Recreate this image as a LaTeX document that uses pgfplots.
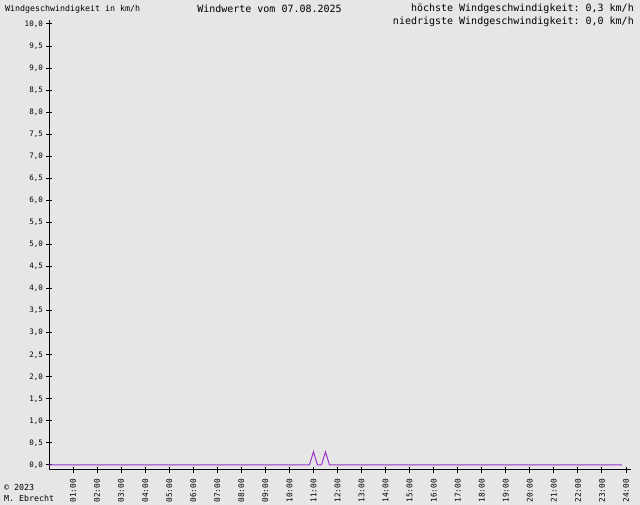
\documentclass[border=0pt]{standalone}
\usepackage{fontspec}
\setmonofont{DejaVu Sans Mono}
\usepackage{pgfplots}
\pgfplotsset{compat=1.18}
\definecolor{bg}{RGB}{230,230,230}
\definecolor{wind}{RGB}{153,51,204}
\newcommand{\fs}[1]{\fontsize{#1}{#1}\selectfont\ttfamily}
\begin{document}
\begin{tikzpicture}[x=1bp,y=1bp]
\fill[bg] (0,0) rectangle (640,505);
\useasboundingbox (0,0) rectangle (640,505);
\begin{axis}[
  at={(49bp,35bp)}, anchor=south west,
  scale only axis, width=581.8bp, height=450bp,
  xmin=0, xmax=24.2, ymin=-0.1134, ymax=10.0907,
  axis lines=left, axis line style={-, black, line width=1bp},
  tick align=center, major tick length=6bp,
  tick style={black, line width=1bp},
  xtick={1,2,...,24},
  xticklabels={01:00,02:00,03:00,04:00,05:00,06:00,07:00,08:00,09:00,10:00,11:00,12:00,13:00,14:00,15:00,16:00,17:00,18:00,19:00,20:00,21:00,22:00,23:00,24:00},
  x tick label style={yshift=-6bp, rotate=90, anchor=east, font=\fs{7.8bp}, inner sep=0pt},
  ytick={0,0.5,...,10},
  yticklabels={{0,0},{0,5},{1,0},{1,5},{2,0},{2,5},{3,0},{3,5},{4,0},{4,5},{5,0},{5,5},{6,0},{6,5},{7,0},{7,5},{8,0},{8,5},{9,0},{9,5},{10,0}},
  y tick label style={anchor=east, font=\fs{7.5bp}, inner sep=0pt, xshift=-3bp},
  clip=false,
]
\addplot[wind, line width=1bp] coordinates {
(0,0) (10.8333,0) (11,0.3) (11.1667,0) (11.3333,0) (11.5,0.3) (11.6667,0) (23.8333,0)
};
\end{axis}
\node[anchor=west, inner sep=0pt, font=\fs{8.3bp}] at (5,496) {Windgeschwindigkeit in km/h};
\node[inner sep=0pt, font=\fs{10bp}] at (269.5,496) {Windwerte vom 07.08.2025};
\node[anchor=east, inner sep=0pt, font=\fs{10bp}] at (634,496) {höchste Windgeschwindigkeit: 0,3 km/h};
\node[anchor=east, inner sep=0pt, font=\fs{10bp}] at (634,483) {niedrigste Windgeschwindigkeit: 0,0 km/h};
\node[anchor=west, inner sep=0pt, font=\fs{8.3bp}] at (4,18) {© 2023};
\node[anchor=west, inner sep=0pt, font=\fs{8.3bp}] at (4,7) {M. Ebrecht};
\end{tikzpicture}
\end{document}
